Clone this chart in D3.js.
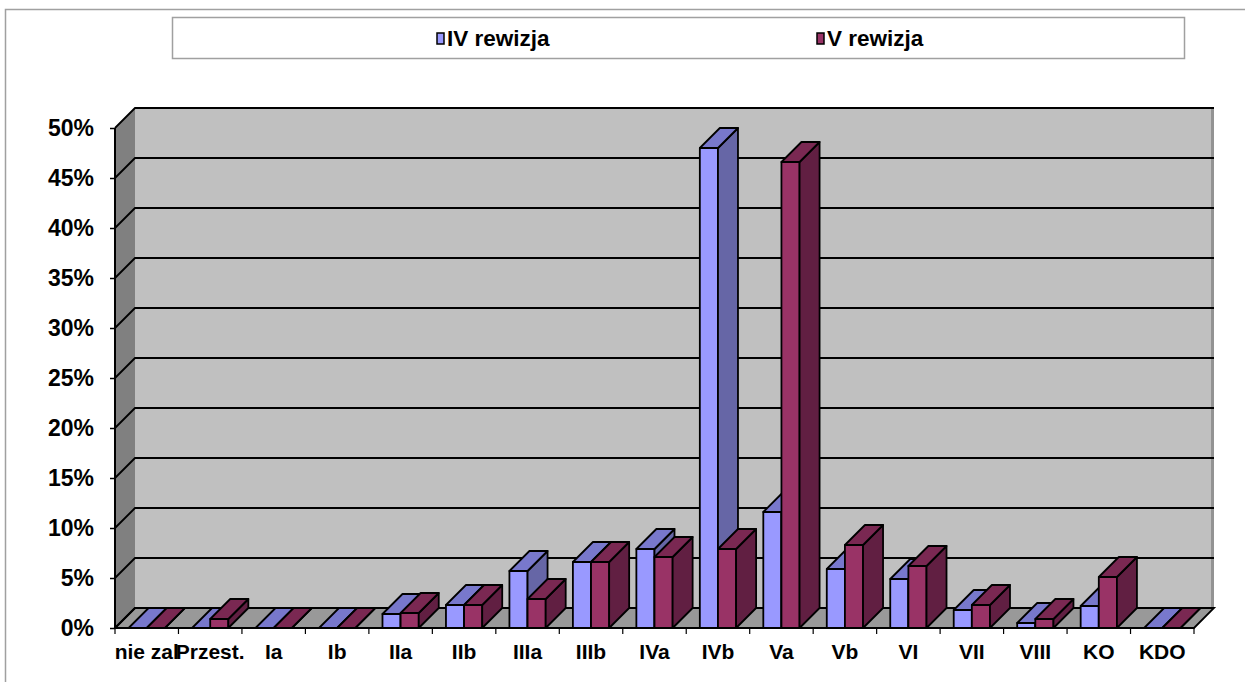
<!DOCTYPE html>
<html>
<head>
<meta charset="utf-8">
<script src="https://cdn.jsdelivr.net/npm/d3@7"></script>
<style>
  body { margin: 0; background: #fff; }
  text { font-family: "Liberation Sans", Arial, sans-serif; font-weight: bold; fill: #000; }
</style>
</head>
<body>
<svg id="chart" width="1245" height="682"></svg>
<script>
// categories and the two series (percent)
const categories = ["nie zal", "Przest.", "Ia", "Ib", "IIa", "IIb", "IIIa", "IIIb", "IVa",
  "IVb", "Va", "Vb", "VI", "VII", "VIII", "KO", "KDO"];
const seriesNames = ["IV rewizja", "V rewizja"];
const ivValues = [0, 0, 0, 0, 1.4, 2.3, 5.7, 6.6, 7.9, 48.0, 11.6, 5.9, 4.9, 1.8, 0.5, 2.2, 0];
const vValues = [0, 0.9, 0, 0, 1.5, 2.3, 2.9, 6.6, 7.1, 7.9, 46.6, 8.3, 6.2, 2.3, 0.9, 5.1, 0];
const yTicks = [0, 5, 10, 15, 20, 25, 30, 35, 40, 45, 50];

// colours: front, top, side
const colors = [
  { front: "#9999ff", top: "#7878cc", side: "#6666a6" },
  { front: "#993366", top: "#7a2852", side: "#611f42" }
];

const svg = d3.select("#chart");
const depth = 20;   // 3d offset (x right, y up)
const pLeft = 115, pRight = 1194, pBottom = 628, pTop = 128;

let x = d3.scaleBand().domain(categories).range([pLeft, pRight]).paddingInner(0).paddingOuter(0);
let xs = d3.scaleBand().domain(seriesNames).range([0, x.bandwidth()]).paddingInner(0).paddingOuter(0.75);
let y = d3.scaleLinear().domain([0, 50]).range([pBottom, pTop]);

// outer chart border
svg.append("rect")
  .attr("x", 5.5).attr("y", 9.5).attr("width", 1400).attr("height", 900)
  .attr("fill", "none").attr("stroke", "#a0a0a0").attr("stroke-width", 1.5);

// legend
let legend = svg.append("g");
legend.append("rect")
  .attr("x", 172.5).attr("y", 17.5).attr("width", 1012).attr("height", 41)
  .attr("fill", "#fff").attr("stroke", "#a0a0a0").attr("stroke-width", 1.5);
let legendX = [437, 817];
seriesNames.forEach((name, i) => {
  legend.append("rect")
    .attr("x", legendX[i]).attr("y", 33).attr("width", 7).attr("height", 11)
    .attr("fill", colors[i].front).attr("stroke", "#000").attr("stroke-width", 1.5);
  legend.append("text")
    .attr("x", legendX[i] + 10).attr("y", 46)
    .style("font-size", "22.5px")
    .text(name);
});

let poly = pts => "M" + pts.map(p => p.join(",")).join("L") + "Z";

// walls
let wall = svg.append("g");
// back wall
wall.append("path")
  .attr("d", poly([[pLeft + depth, pTop - depth], [pRight + depth, pTop - depth], [pRight + depth, pBottom - depth], [pLeft + depth, pBottom - depth]]))
  .attr("fill", "#c0c0c0");
wall.append("rect")
  .attr("x", pRight + depth - 3).attr("y", pTop - depth).attr("width", 3).attr("height", pBottom - pTop)
  .attr("fill", "#939393");
// side wall
wall.append("path")
  .attr("d", poly([[pLeft, pTop], [pLeft + depth, pTop - depth], [pLeft + depth, pBottom - depth], [pLeft, pBottom]]))
  .attr("fill", "#808080");
// floor
wall.append("path")
  .attr("d", poly([[pLeft, pBottom], [pLeft + depth, pBottom - depth], [pRight + depth, pBottom - depth], [pRight, pBottom]]))
  .attr("fill", "#999999").attr("stroke", "#000").attr("stroke-width", 1.8);

// gridlines on side and back wall
let grid = svg.append("g").attr("stroke", "#000").attr("stroke-width", 1.8).attr("fill", "none");
yTicks.forEach(t => {
  grid.append("path")
    .attr("d", "M" + pLeft + "," + y(t) + "L" + (pLeft + depth) + "," + (y(t) - depth) + "L" + (pRight + depth) + "," + (y(t) - depth));
});

// y axis
svg.append("g")
  .attr("transform", "translate(" + pLeft + ",0)")
  .call(d3.axisLeft(y).tickValues(yTicks).tickSize(5).tickPadding(16).tickFormat(d => d + "%"))
  .call(g => g.select(".domain").attr("stroke", "#000").attr("stroke-width", 2).attr("d", "M0," + pTop + "V" + pBottom))
  .call(g => g.selectAll(".tick line").attr("stroke", "#000").attr("stroke-width", 1.5))
  .call(g => g.selectAll(".tick text").style("font-size", "23px").attr("font-family", null).attr("fill", "#000"));

// x axis: ticks at category boundaries
let xAxis = svg.append("g");
xAxis.append("path")
  .attr("d", "M" + pLeft + "," + pBottom + "H" + pRight)
  .attr("stroke", "#000").attr("stroke-width", 2);
xAxis.selectAll("line.xtick")
  .data(categories.concat([null]))
  .enter().append("line")
  .attr("class", "xtick")
  .attr("x1", (d, i) => pLeft + i * x.step()).attr("x2", (d, i) => pLeft + i * x.step())
  .attr("y1", pBottom).attr("y2", pBottom + 6)
  .attr("stroke", "#000").attr("stroke-width", 1.2);
xAxis.selectAll("text")
  .data(categories)
  .enter().append("text")
  .attr("x", d => x(d) + x.bandwidth() / 2)
  .attr("y", pBottom + 31)
  .attr("text-anchor", "middle")
  .style("font-size", "21px")
  .text(d => d);

// bars
let bars = svg.append("g").attr("stroke", "#000").attr("stroke-width", 1.8).attr("stroke-linejoin", "round");
categories.forEach((c, ci) => {
  [ivValues, vValues].forEach((vals, si) => {
    let x0 = x(c) + xs(seriesNames[si]);
    let x1 = x0 + xs.bandwidth();
    let yt = y(vals[ci]);
    let col = colors[si];
    let g = bars.append("g");
    // front
    g.append("path")
      .attr("d", poly([[x0, yt], [x1, yt], [x1, pBottom], [x0, pBottom]]))
      .attr("fill", col.front);
    // side
    g.append("path")
      .attr("d", poly([[x1, yt], [x1 + depth, yt - depth], [x1 + depth, pBottom - depth], [x1, pBottom]]))
      .attr("fill", col.side);
    // top
    g.append("path")
      .attr("d", poly([[x0, yt], [x0 + depth, yt - depth], [x1 + depth, yt - depth], [x1, yt]]))
      .attr("fill", col.top);
  });
});
</script>
</body>
</html>
